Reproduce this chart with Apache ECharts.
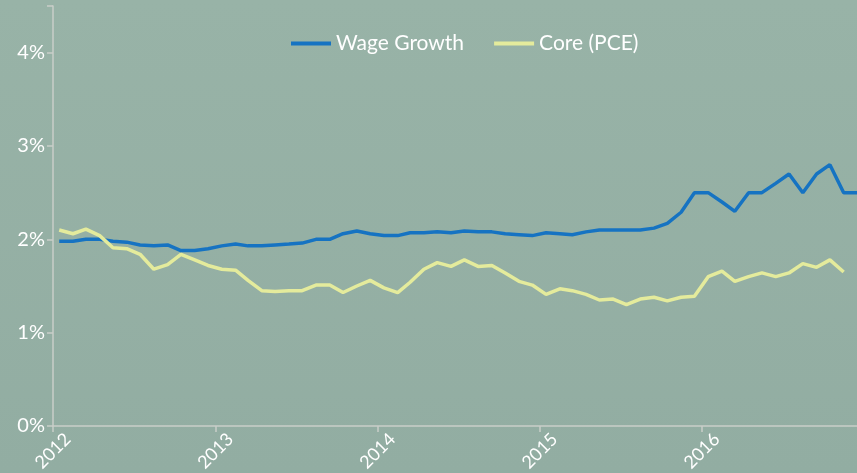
<!DOCTYPE html>
<html>
<head>
<meta charset="utf-8">
<title>Wage Growth vs Core PCE</title>
<script src="https://cdn.jsdelivr.net/npm/echarts@6/dist/echarts.min.js"></script>
<style>
  html, body { margin: 0; padding: 0; }
  body { background: linear-gradient(#98b3a7, #92ada2); }
  #chart { width: 857px; height: 473px; }
</style>
</head>
<body>
<div id="chart"></div>
<script>
// monthly observations, Jan 2012 onwards (dated mid-month)
var startYear = 2012;
var yearTicks = [2012, 2013, 2014, 2015, 2016];

var wageGrowth = [
  1.98, 1.98, 2.00, 2.00, 1.98, 1.97, 1.94, 1.93, 1.94, 1.88, 1.88, 1.90,
  1.93, 1.95, 1.93, 1.93, 1.94, 1.95, 1.96, 2.00, 2.00, 2.06, 2.09, 2.06,
  2.04, 2.04, 2.07, 2.07, 2.08, 2.07, 2.09, 2.08, 2.08, 2.06, 2.05, 2.04,
  2.07, 2.06, 2.05, 2.08, 2.10, 2.10, 2.10, 2.10, 2.12, 2.17, 2.29, 2.50,
  2.50, 2.40, 2.30, 2.50, 2.50, 2.60, 2.70, 2.50, 2.70, 2.80, 2.50, 2.50
];

var corePce = [
  2.10, 2.06, 2.11, 2.04, 1.91, 1.90, 1.84, 1.68, 1.73, 1.84, 1.78, 1.72,
  1.68, 1.67, 1.56, 1.45, 1.44, 1.45, 1.45, 1.51, 1.51, 1.43, 1.50, 1.56,
  1.48, 1.43, 1.54, 1.68, 1.75, 1.71, 1.78, 1.71, 1.72, 1.64, 1.55, 1.51,
  1.41, 1.47, 1.45, 1.41, 1.35, 1.36, 1.30, 1.36, 1.38, 1.34, 1.38, 1.39,
  1.60, 1.66, 1.55, 1.60, 1.64, 1.60, 1.64, 1.74, 1.70, 1.78, 1.65
];

function monthDate(i) {
  var y = startYear + Math.floor(i / 12);
  var m = (i % 12) + 1;
  return y + '-' + (m < 10 ? '0' + m : m) + '-15';
}

function toPairs(values) {
  return values.map(function (v, i) { return [monthDate(i), v]; });
}

var chart = echarts.init(document.getElementById('chart'));
var axisColor = '#c9cec9';
var font = 'Lato';

chart.setOption({
  backgroundColor: 'transparent',
  textStyle: { fontFamily: font },
  legend: {
    left: 286,
    top: 28,
    itemWidth: 40,
    itemHeight: 4,
    itemGap: 30,
    icon: 'rect',
    textStyle: { color: '#ffffff', fontSize: 21, fontFamily: font },
    data: ['Wage Growth', 'Core (PCE)']
  },
  grid: {
    left: 53,
    right: 0,
    top: 6,
    bottom: 47,
    containLabel: false,
    outerBoundsMode: 'none'
  },
  xAxis: {
    type: 'time',
    min: startYear + '-01-01',
    max: monthDate(wageGrowth.length - 1),
    minInterval: 365 * 24 * 3600 * 1000,
    maxInterval: 366 * 24 * 3600 * 1000,
    axisLine: { lineStyle: { color: axisColor, width: 1.5 } },
    axisTick: { show: true, length: 6, lineStyle: { color: axisColor, width: 1.5 } },
    splitLine: { show: false },
    axisLabel: {
      color: '#ffffff',
      fontSize: 18,
      fontFamily: font,
      rotate: 45,
      align: 'center',
      verticalAlign: 'middle',
      margin: 25,
      formatter: function (val) {
        var y = new Date(val).getFullYear();
        return yearTicks.indexOf(y) >= 0 ? String(y) : '';
      }
    }
  },
  yAxis: {
    type: 'value',
    min: 0,
    max: 4.5,
    interval: 1,
    axisLine: { show: true, lineStyle: { color: axisColor, width: 1.5 } },
    axisTick: { show: true, length: 6, lineStyle: { color: axisColor, width: 1.5 } },
    splitLine: { show: false },
    axisLabel: {
      color: '#ffffff',
      fontSize: 20,
      fontFamily: font,
      margin: 8,
      formatter: function (v) { return v % 1 === 0 ? v + '%' : ''; }
    }
  },
  series: [
    {
      name: 'Wage Growth',
      type: 'line',
      showSymbol: false,
      color: '#1673c2',
      lineStyle: { width: 3.5, color: '#1673c2' },
      data: toPairs(wageGrowth)
    },
    {
      name: 'Core (PCE)',
      type: 'line',
      showSymbol: false,
      color: '#e4eb9c',
      lineStyle: { width: 3.5, color: '#e4eb9c' },
      data: toPairs(corePce)
    }
  ]
});
</script>
</body>
</html>
